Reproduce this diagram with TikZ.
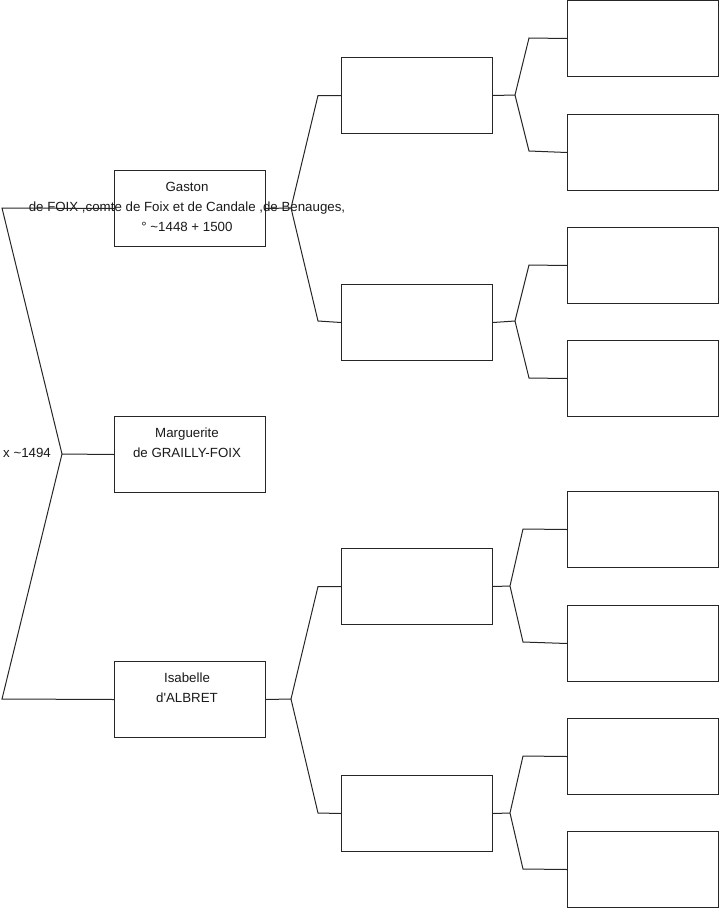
\documentclass[tikz,border=0pt]{standalone}
\usepackage{fontspec}
\setmainfont{Liberation Sans}[Ligatures=TeXOff]
\begin{document}
\begin{tikzpicture}[x=1pt,y=-1pt,
  box/.style={draw=black!85,line width=1pt,minimum width=151pt,minimum height=76pt,inner sep=0pt,anchor=north west},
  txt/.style={font=\fontsize{13.3}{20}\selectfont,align=center,anchor=north,inner sep=0pt,text=black!90},
  con/.style={draw=black!85,line width=1pt}]
\useasboundingbox (0,0) rectangle (719,908);
% level 1
\node[box] (g) at (114,170) {};
\node[box] (m) at (114,416) {};
\node[box] (i) at (114,661) {};
% level 2
\node[box] (a1) at (341,57) {};
\node[box] (a2) at (341,284) {};
\node[box] (a3) at (341,548) {};
\node[box] (a4) at (341,775) {};
% level 3
\node[box] (b1) at (567,0) {};
\node[box] (b2) at (567,114) {};
\node[box] (b3) at (567,227) {};
\node[box] (b4) at (567,340) {};
\node[box] (b5) at (567,491) {};
\node[box] (b6) at (567,605) {};
\node[box] (b7) at (567,718) {};
\node[box] (b8) at (567,831) {};
% texts
\node[txt] (gt) at ([xshift=-3pt,yshift=-12pt]g.north) {Gaston\\de FOIX ,comte de Foix et de Candale ,de Benauges,\\° \textasciitilde1448 + 1500};
\node[txt] (mt) at ([xshift=-3pt,yshift=-12pt]m.north) {Marguerite\\de GRAILLY-FOIX};
\node[txt] (it) at ([xshift=-3pt,yshift=-12pt]i.north) {Isabelle\\d'ALBRET};
\node[font=\fontsize{13.3}{14}\selectfont,anchor=west,inner sep=0pt,text=black!90] (xl) at (3,453) {x \textasciitilde1494};
% coordinates for forks
\coordinate (f0) at (62,454);
\coordinate (f0t) at (2,208);
\coordinate (f0b) at (2,699);
\coordinate (fg) at (291,208);
\coordinate (fi) at (291,699);
\coordinate (f1) at (515,95);
\coordinate (f2) at (515,321);
\coordinate (f3) at (510,586);
\coordinate (f4) at (510,813);
% left fork
\draw[con] (g.west) -- (f0t) -- (f0) -- (f0b) -- (i.west);
\draw[con] (f0) -- (m.west);
% Gaston fork
\draw[con] (g.east) -- (fg);
\draw[con] (a1.west) -- ++(-23,0) -- (fg) -- (318,321) -- (a2.west);
% Isabelle fork
\draw[con] (i.east) -- (fi);
\draw[con] (a3.west) -- ++(-23,0) -- (fi) -- (318,813) -- (a4.west);
% level 2 forks
\draw[con] (a1.east) -- (f1);
\draw[con] (b1.west) -- (529,38) -- (f1) -- (529,151) -- (b2.west);
\draw[con] (a2.east) -- (f2);
\draw[con] (b3.west) -- (529,265) -- (f2) -- (529,378) -- (b4.west);
\draw[con] (a3.east) -- (f3);
\draw[con] (b5.west) -- (523,529) -- (f3) -- (523,642) -- (b6.west);
\draw[con] (a4.east) -- (f4);
\draw[con] (b7.west) -- (523,756) -- (f4) -- (523,869) -- (b8.west);
\end{tikzpicture}
\end{document}
